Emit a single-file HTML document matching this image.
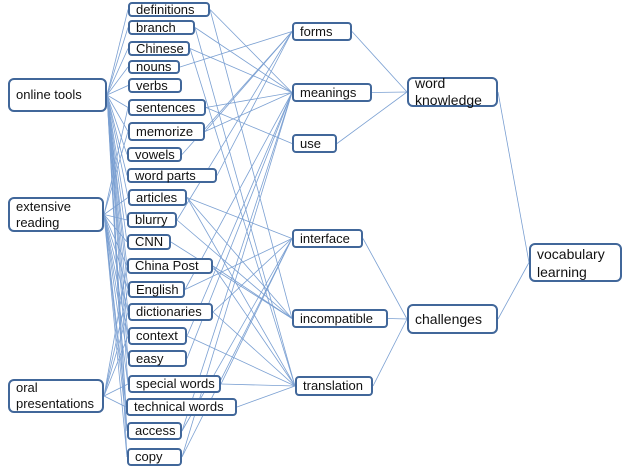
<!DOCTYPE html>
<html><head><style>
body{margin:0;width:625px;height:473px;background:#fff;position:relative;overflow:hidden;font-family:"Liberation Sans",sans-serif;}
.b{position:absolute;border:2px solid #41679a;border-radius:4px;box-sizing:border-box;background:#fff;font-size:13px;color:#111;padding-left:6px;line-height:14px;display:flex;align-items:center;white-space:nowrap;}
svg{position:absolute;left:0;top:0}
</style></head><body>
<svg width="625" height="473" stroke="#7ba0d2" stroke-width="0.8" fill="none">
<g id="l"></g>
</svg>
<script>
var B={
ot:[8,78,107,112],er:[8,197,104,232],op:[8,379,104,413],
de:[128,2,210,17],br:[128,20,195,35],ch:[128,41,190,56],no:[128,60,180,74],ve:[128,78,182,93],se:[128,99,206,116],me:[128,122,205,141],vo:[127,147,182,162],wp:[127,168,217,183],ar:[128,189,187,206],bl:[127,212,177,228],cn:[127,234,171,250],cp:[127,258,213,274],en:[128,281,185,298],di:[128,303,213,321],co:[128,327,187,345],ea:[128,350,187,367],sw:[128,375,221,393],tw:[126,398,237,416],ac:[127,422,182,440],cy:[127,448,182,466],
fo:[292,22,352,41],mn:[292,83,372,102],us:[292,134,337,153],in:[292,229,363,248],ic:[292,309,388,328],tr:[295,376,373,396],
wk:[407,77,498,107],cg:[407,304,498,334],vl:[529,243,622,282]};
var mids=["de","br","ch","no","ve","se","me","vo","wp","ar","bl","cn","cp","en","di","co","ea","sw","tw","ac","cy"];
var E=[];
mids.forEach(function(m){E.push(["ot",m]);});
["ar","bl","cn","cp","en","di","co","ea","sw","tw","ac","cy","se","me"].forEach(function(m){E.push(["er",m]);});
["cp","en","di","co","sw","tw"].forEach(function(m){E.push(["op",m]);});
E=E.concat([["de","mn"],["de","ic"],["br","mn"],["br","tr"],["ch","mn"],["ch","tr"],["no","fo"],["se","us"],["se","mn"],["me","fo"],["me","mn"],["vo","fo"],["wp","fo"],["ar","in"],["ar","tr"],["ar","ic"],["bl","fo"],["bl","ic"],["cn","ic"],["cp","ic"],["cp","tr"],["en","in"],["en","mn"],["di","in"],["di","tr"],["co","mn"],["co","tr"],["ea","mn"],["sw","in"],["sw","tr"],["tw","tr"],["ac","mn"],["ac","in"],["cy","mn"],["cy","in"],["fo","wk"],["mn","wk"],["us","wk"],["in","cg"],["ic","cg"],["tr","cg"],["wk","vl"],["cg","vl"]]);
var s="";
E.forEach(function(e){var a=B[e[0]],b=B[e[1]];s+='<line x1="'+a[2]+'" y1="'+(a[1]+a[3])/2+'" x2="'+b[0]+'" y2="'+(b[1]+b[3])/2+'"/>';});
document.getElementById("l").innerHTML=s;
</script>
<div class="b" style="left:8px;top:78px;width:99px;height:34px;border-radius:6px">online tools</div>
<div class="b" style="left:8px;top:197px;width:96px;height:35px;border-radius:6px;line-height:16px">extensive<br>reading</div>
<div class="b" style="left:8px;top:379px;width:96px;height:34px;border-radius:6px;line-height:16px">oral<br>presentations</div>
<div class="b" style="left:128px;top:2px;width:82px;height:15px">definitions</div>
<div class="b" style="left:128px;top:20px;width:67px;height:15px">branch</div>
<div class="b" style="left:128px;top:41px;width:62px;height:15px">Chinese</div>
<div class="b" style="left:128px;top:60px;width:52px;height:14px">nouns</div>
<div class="b" style="left:128px;top:78px;width:54px;height:15px">verbs</div>
<div class="b" style="left:128px;top:99px;width:78px;height:17px">sentences</div>
<div class="b" style="left:128px;top:122px;width:77px;height:19px">memorize</div>
<div class="b" style="left:127px;top:147px;width:55px;height:15px">vowels</div>
<div class="b" style="left:127px;top:168px;width:90px;height:15px">word parts</div>
<div class="b" style="left:128px;top:189px;width:59px;height:17px">articles</div>
<div class="b" style="left:127px;top:212px;width:50px;height:16px">blurry</div>
<div class="b" style="left:127px;top:234px;width:44px;height:16px">CNN</div>
<div class="b" style="left:127px;top:258px;width:86px;height:16px">China Post</div>
<div class="b" style="left:128px;top:281px;width:57px;height:17px">English</div>
<div class="b" style="left:128px;top:303px;width:85px;height:18px">dictionaries</div>
<div class="b" style="left:128px;top:327px;width:59px;height:18px">context</div>
<div class="b" style="left:128px;top:350px;width:59px;height:17px">easy</div>
<div class="b" style="left:128px;top:375px;width:93px;height:18px">special words</div>
<div class="b" style="left:126px;top:398px;width:111px;height:18px">technical words</div>
<div class="b" style="left:127px;top:422px;width:55px;height:18px">access</div>
<div class="b" style="left:127px;top:448px;width:55px;height:18px">copy</div>
<div class="b" style="left:292px;top:22px;width:60px;height:19px">forms</div>
<div class="b" style="left:292px;top:83px;width:80px;height:19px">meanings</div>
<div class="b" style="left:292px;top:134px;width:45px;height:19px">use</div>
<div class="b" style="left:292px;top:229px;width:71px;height:19px">interface</div>
<div class="b" style="left:292px;top:309px;width:96px;height:19px">incompatible</div>
<div class="b" style="left:295px;top:376px;width:78px;height:20px">translation</div>
<div class="b" style="left:407px;top:77px;width:91px;height:30px;border-radius:6px;font-size:14px;line-height:17px">word<br>knowledge</div>
<div class="b" style="left:407px;top:304px;width:91px;height:30px;border-radius:6px;font-size:14px">challenges</div>
<div class="b" style="left:529px;top:243px;width:93px;height:39px;border-radius:6px;font-size:14px;line-height:18px">vocabulary<br>learning</div>
</body></html>
